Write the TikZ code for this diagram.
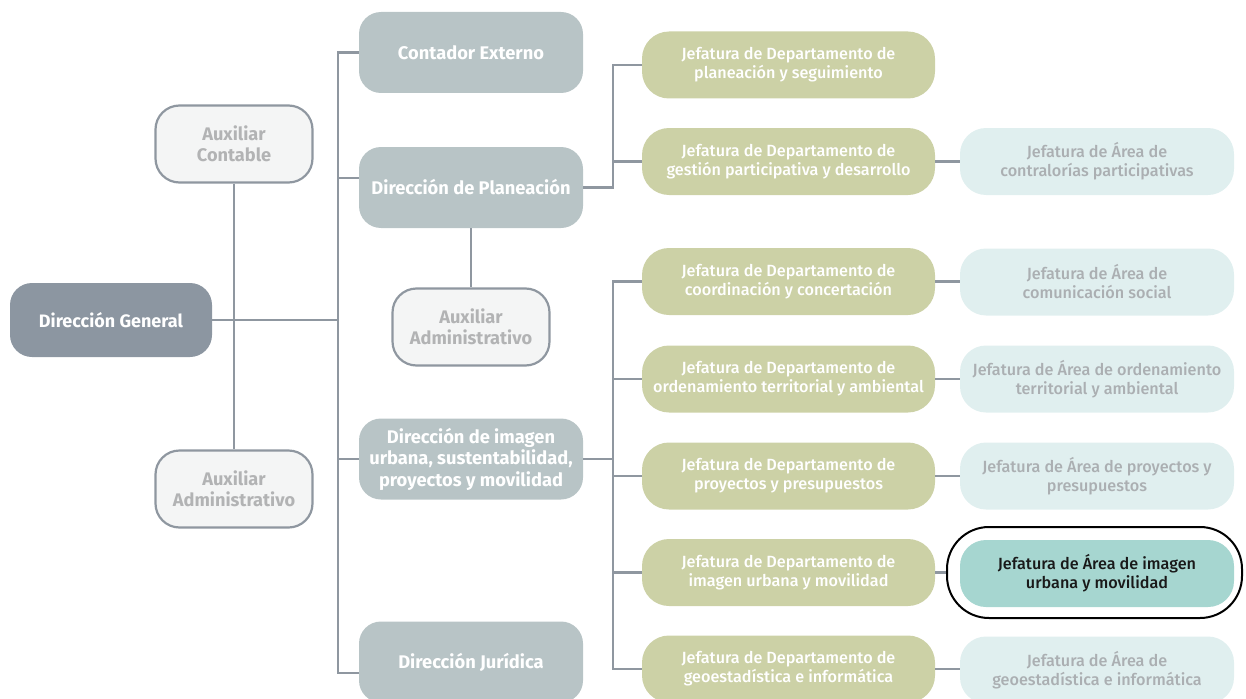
\documentclass[tikz,border=0pt]{standalone}
\usepackage{fontspec}
\setmainfont{Fira Sans}
\IfFontExistsTF{Fira Sans Medium}{\newfontfamily\medfont{Fira Sans Medium}}{\newfontfamily\medfont{Fira Sans}[UprightFont=*~Bold]}
\definecolor{linec}{HTML}{8F97A0}
\definecolor{dgfill}{HTML}{8C96A1}
\definecolor{dirfill}{HTML}{B8C4C6}
\definecolor{jdfill}{HTML}{CCD1A6}
\definecolor{jafill}{HTML}{E0EFEF}
\definecolor{jatext}{HTML}{ABAFB2}
\definecolor{auxfill}{HTML}{F4F5F5}
\definecolor{auxtext}{HTML}{B2B3B4}
\definecolor{hlfill}{HTML}{A6D6D0}
\begin{document}
\begin{tikzpicture}[x=1pt,y=-1pt,
  box/.style={rectangle, align=center, inner sep=0pt, font=\bfseries},
  dgbox/.style={box, fill=dgfill, text=white, rounded corners=22pt, minimum width=202pt, minimum height=74pt, font=\bfseries\fontsize{18}{22}\selectfont},
  dirbox/.style={box, fill=dirfill, text=white, rounded corners=22pt, minimum width=224pt, minimum height=81pt, font=\bfseries\fontsize{18.3}{21.5}\selectfont},
  auxbox/.style={box, fill=auxfill, draw=linec, line width=2.2pt, text=auxtext, rounded corners=24pt, minimum width=157pt, minimum height=77pt, font=\bfseries\fontsize{18.2}{21}\selectfont},
  jdbox/.style={box, fill=jdfill, text=white, rounded corners=27pt, minimum width=293pt, minimum height=67pt, font=\medfont\fontsize{16.2}{19}\selectfont},
  jabox/.style={box, fill=jafill, text=jatext, rounded corners=26pt, minimum width=274pt, minimum height=67pt, font=\medfont\fontsize{16.2}{19}\selectfont},
  hlbox/.style={jabox, fill=hlfill, text=black!90},
  conn/.style={draw=linec, line width=2.2pt},
]
\useasboundingbox (0,0) rectangle (1246,698);
% nodes
\node[dgbox] (dg) at (111,320) {Dirección General};
\node[auxbox] (auxc) at (234,144) {Auxiliar\\Contable};
\node[auxbox] (auxa) at (234,489) {Auxiliar\\Administrativo};
\node[dirbox] (ce) at (471,52.5) {Contador Externo};
\node[dirbox] (dp) at (471,187.5) {Dirección de Planeación};
\node[auxbox] (auxb) at (471,327) {Auxiliar\\Administrativo};
\node[dirbox] (di) at (471,459) {Dirección de imagen\\urbana, sustentabilidad,\\proyectos y movilidad};
\node[dirbox] (dj) at (471,662) {Dirección Jurídica};
\node[jdbox] (jd1) at (788.5,65) {Jefatura de Departamento de\\planeación y seguimiento};
\node[jdbox] (jd2) at (788.5,161.5) {Jefatura de Departamento de\\gestión participativa y desarrollo};
\node[jdbox] (jd3) at (788.5,281.5) {Jefatura de Departamento de\\coordinación y concertación};
\node[jdbox] (jd4) at (788.5,379) {Jefatura de Departamento de\\ordenamiento territorial y ambiental};
\node[jdbox] (jd5) at (788.5,476) {Jefatura de Departamento de\\proyectos y presupuestos};
\node[jdbox] (jd6) at (788.5,572.5) {Jefatura de Departamento de\\imagen urbana y movilidad};
\node[jdbox] (jd7) at (788.5,669) {Jefatura de Departamento de\\geoestadística e informática};
\node[jabox] (ja2) at (1097,161.5) {Jefatura de Área de\\contralorías participativas};
\node[jabox] (ja3) at (1097,282) {Jefatura de Área de\\comunicación social};
\node[jabox] (ja4) at (1097,379) {Jefatura de Área de ordenamiento\\territorial y ambiental};
\node[jabox] (ja5) at (1097,476) {Jefatura de Área de proyectos y\\presupuestos};
\node[hlbox] (ja6) at (1097,573.5) {Jefatura de Área de imagen\\urbana y movilidad};
\node[jabox] (ja7) at (1097,670) {Jefatura de Área de\\geoestadística e informática};
\node[draw=black, line width=2pt, rounded corners=42pt, minimum width=295pt, minimum height=91pt, inner sep=0pt] (hl) at (1094.5,572.5) {};
% connectors
\coordinate (tr) at (338,0);
\coordinate (rr) at (613,0);
\draw[conn] (dg.east) -- (dg.east -| tr);
\draw[conn] (auxc.south) -- (auxa.north);
\draw[conn] (ce.west) -- (ce.west -| tr) -- ([yshift=-11pt]dj.west -| tr) -- ([yshift=-11pt]dj.west);
\draw[conn] ([yshift=9.5pt]dp.west) -- ([yshift=9.5pt]dp.west -| tr);
\draw[conn] (di.west) -- (di.west -| tr);
\draw[conn] (dp.south) -- (auxb.north);
\draw[conn] (dp.east) -- (dp.east -| rr) -- (jd1.west -| rr) -- (jd1.west);
\draw[conn] (jd2.west) -- (jd2.west -| rr);
\draw[conn] (jd3.west) -- (jd3.west -| rr) -- (jd7.west -| rr) -- (jd7.west);
\draw[conn] (jd4.west) -- (jd4.west -| rr);
\draw[conn] (jd5.west) -- (jd5.west -| rr);
\draw[conn] (jd6.west) -- (jd6.west -| rr);
\draw[conn] (di.east) -- (di.east -| rr);
\draw[conn] (jd2.east) -- (jd2.east -| ja2.west);
\draw[conn] (jd3.east) -- (jd3.east -| ja3.west);
\draw[conn] (jd4.east) -- (jd4.east -| ja4.west);
\draw[conn] (jd5.east) -- (jd5.east -| ja5.west);
\draw[conn] (jd6.east) -- (jd6.east -| hl.west);
\draw[conn] (jd7.east) -- (jd7.east -| ja7.west);
\end{tikzpicture}
\end{document}
